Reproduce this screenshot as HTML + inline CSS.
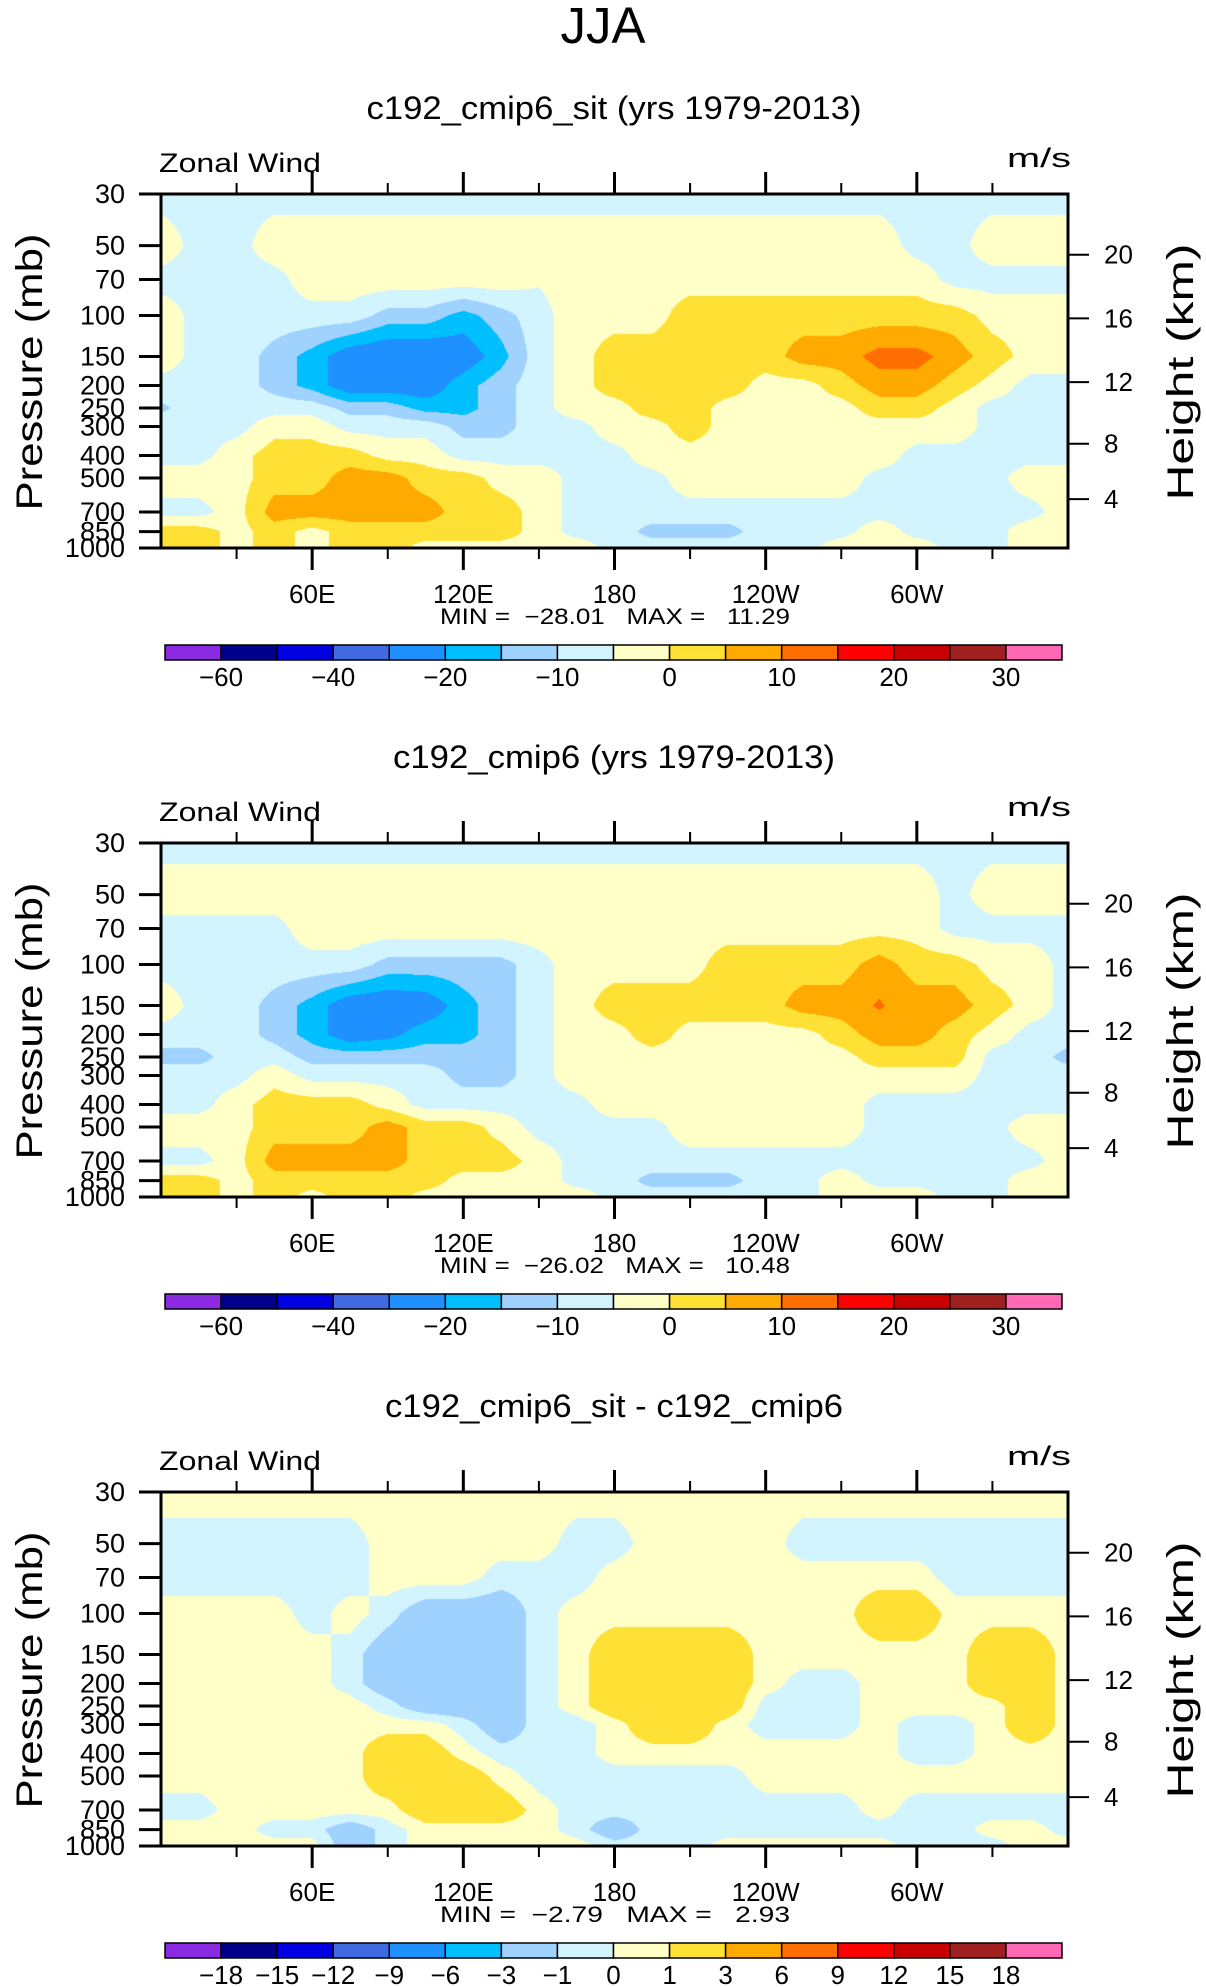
<!DOCTYPE html>
<html><head><meta charset="utf-8"><style>
html,body{margin:0;padding:0;background:#fff;}
#root{position:relative;width:1206px;height:1987px;overflow:hidden;background:#fff;}
canvas{position:absolute;}
svg{position:absolute;left:0;top:0;}
text{font-family:"Liberation Sans",sans-serif;fill:#000;}
</style></head><body>
<div id="root">
<canvas id="cv0" width="907" height="354" style="left:161px;top:194px"></canvas>
<canvas id="cv1" width="907" height="354" style="left:161px;top:843px"></canvas>
<canvas id="cv2" width="907" height="354" style="left:161px;top:1492px"></canvas>
<svg id="svg" width="1206" height="1987"></svg>
</div>
<script>
// ---- data ----
const LONS = [0,15,30,45,60,75,90,105,120,135,150,165,180,195,210,225,240,255,270,285,300,315,330,345,360];
const LEVELS = [30,50,70,100,150,200,250,300,400,500,700,850,1000];
const LEVS_A = [-60,-50,-40,-30,-20,-15,-10,-5,0,5,10,15,20,25,30];
const LEVS_B = [-18,-15,-12,-9,-6,-3,-1,0,1,3,6,9,12,15,18];
const CB_LABELS_A = ["−60","","−40","","−20","","−10","","0","","10","","20","","30"];
const CB_LABELS_B = ["−18","−15","−12","−9","−6","−3","−1","0","1","3","6","9","12","15","18"];
const PRESS_TICKS = [30,50,70,100,150,200,250,300,400,500,700,850,1000];
const HEIGHT_TICKS = [4,8,12,16,20];
const LON_TICKS = [60,120,180,240,300];
const LON_LABELS = ["60E","120E","180","120W","60W"];
const LON_MINOR = [30,90,150,210,270,330];
const TITLES = ["c192_cmip6_sit (yrs 1979-2013)","c192_cmip6 (yrs 1979-2013)","c192_cmip6_sit - c192_cmip6"];
const MINS = ["−28.01","−26.02","−2.79"];
const MAXS = ["11.29","10.48","2.93"];

const U_SIT = [
[-7,-7,-7,-7,-7,-7,-7,-7,-7,-7,-7,-7,-7,-7,-7,-7,-7,-7,-7,-7,-7,-7,-7,-7,-7],
[-2,-7,-7,-2,-2,-2,-2,-2,-2,-2,-2,-2,-2,-2,-2,-2,-2,-2,-2,-2,-7,-7,-2,-2,-2],
[-7,-7,-7,-7,-2,-2,-2,-2,-2,-2,-4.5,-2,-2,-2,-2,-2,-2,-2,-2,-2,-2,-7,-7,-7,-7],
[-2,-7,-7,-7,-7,-7,-12,-12,-17,-12,-7,-2,-2,-2,2.5,2.5,2.5,2.5,2.5,2.5,2.5,2.5,-2,-2,-2],
[-2,-7,-7,-12,-17,-24,-26,-26,-24,-17,-7,-2,2.5,2.5,2.5,2.5,2.5,7.5,7.5,12,12,7.5,2.5,-2,-2],
[-7,-7,-7,-12,-17,-24,-24,-24,-17,-12,-7,-2,2.5,2.5,2.5,2.5,-2,-2,2.5,7.5,7.5,2.5,-2,-7,-7],
[-11,-7,-7,-7,-7,-12,-12,-17,-17,-12,-7,-2,-2,2.5,2.5,-2,-2,-2,-2,2.5,2.5,-2,-7,-7,-7],
[-7,-7,-7,-2,-2,-7,-7,-7,-12,-12,-7,-7,-2,-2,2.5,-2,-2,-2,-2,-2,-2,-2,-7,-7,-7],
[-7,-7,-2,2.5,2.5,2.5,-2,-2,-7,-7,-7,-7,-7,-2,-2,-2,-2,-2,-2,-2,-7,-7,-7,-7,-7],
[-2,-2,-2,2.5,2.5,7.5,7.5,2.5,2.5,-2,-2,-7,-7,-7,-2,-2,-2,-2,-2,-7,-7,-7,-7,-2,-2],
[-7,-7,-2,7.5,7.5,7.5,7.5,7.5,2.5,2.5,-2,-7,-7,-7,-7,-7,-7,-7,-7,-7,-7,-7,-7,-7,-2],
[2.5,2.5,-2,2.5,-2,2.5,2.5,2.5,2.5,2.5,-2,-7,-7,-12,-12,-12,-7,-7,-7,-2,-7,-7,-7,-2,-2],
[2.5,2.5,-2,2.5,-2,2.5,2.5,-2,-2,-2,-2,-2,-7,-7,-7,-7,-7,-7,-2,-2,-2,-7,-7,-2,-2]
];
const U_CTL = [
[-7,-7,-7,-7,-7,-7,-7,-7,-7,-7,-7,-7,-7,-7,-7,-7,-7,-7,-7,-7,-7,-7,-7,-7,-7],
[-2,-2,-2,-2,-2,-2,-2,-2,-2,-2,-2,-2,-2,-2,-2,-2,-2,-2,-2,-2,-2,-7,-2,-2,-2],
[-7,-7,-7,-7,-2,-2,-2,-2,-2,-2,-2,-2,-2,-2,-2,-2,-2,-2,-2,-2,-2,-7,-7,-7,-7],
[-7,-7,-7,-7,-7,-7,-12,-12,-12,-12,-7,-2,-2,-2,-2,2.5,2.5,2.5,2.5,7.5,2.5,2.5,-2,-2,-7],
[-2,-7,-7,-12,-17,-24,-25,-24,-17,-12,-7,-2,2.5,2.5,2.5,2.5,2.5,7.5,7.5,10.5,7.5,7.5,2.5,-2,-7],
[-7,-7,-7,-12,-17,-24,-22,-17,-17,-12,-7,-2,-2,2.5,-2,-2,-2,-2,2.5,7.5,7.5,2.5,-2,-7,-7],
[-12,-12,-7,-7,-12,-12,-12,-12,-12,-12,-7,-2,-2,-2,-2,-2,-2,-2,-2,2.5,2.5,2.5,-7,-7,-12],
[-7,-7,-7,-2,-7,-7,-7,-7,-12,-12,-7,-2,-2,-2,-2,-2,-2,-2,-2,-2,-2,-2,-7,-7,-7],
[-7,-7,-2,2.5,2.5,2.5,-2,-7,-7,-7,-7,-7,-2,-2,-2,-2,-2,-2,-2,-7,-7,-7,-7,-7,-7],
[-2,-2,-2,2.5,2.5,2.5,7.5,2.5,2.5,-2,-7,-7,-7,-7,-2,-2,-2,-2,-2,-7,-7,-7,-7,-2,-2],
[-7,-7,-2,7.5,7.5,7.5,7.5,2.5,2.5,2.5,-2,-7,-7,-7,-7,-7,-7,-7,-7,-7,-7,-7,-7,-7,-2],
[2.5,2.5,-2,2.5,2.5,2.5,2.5,2.5,-2,-2,-2,-7,-7,-12,-12,-12,-7,-7,-2,-7,-7,-7,-7,-2,-2],
[2.5,2.5,-2,2.5,-2,2.5,2.5,-2,-2,-2,-2,-2,-7,-7,-7,-7,-7,-7,-2,-2,-2,-7,-7,-2,-2]
];
const U_DIFF = [
[0.5,0.5,0.5,0.5,0.5,0.5,0.5,0.5,0.5,0.5,0.5,0.5,0.5,0.5,0.5,0.5,0.5,0.5,0.5,0.5,0.5,0.5,0.5,0.5,0.5],
[-0.5,-0.5,-0.5,-0.5,-0.5,-0.5,0.5,0.5,0.5,0.5,0.5,-0.5,-0.5,0.5,0.5,0.5,0.5,-0.5,-0.5,-0.5,-0.5,-0.5,-0.5,-0.5,-0.5],
[-0.5,-0.5,-0.5,-0.5,-0.5,-0.5,0.5,0.5,0.5,-0.5,-0.5,-0.5,0.5,0.5,0.5,0.5,0.5,0.5,0.5,0.5,0.5,-0.5,-0.5,-0.5,-0.5],
[0.5,0.5,0.5,0.5,-0.5,0.5,-0.5,-2,-2,-2,-0.5,0.5,0.5,0.5,0.5,0.5,0.5,0.5,0.5,2,2,0.5,0.5,0.5,0.5],
[0.5,0.5,0.5,0.5,0.5,-0.5,-2,-2,-2,-2,-0.5,0.5,2,2,2,2,0.5,0.5,0.5,0.5,0.5,0.5,2,2,0.5],
[0.5,0.5,0.5,0.5,0.5,-0.5,-2,-2,-2,-2,-0.5,0.5,2,2,2,2,0.5,-0.5,-0.5,0.5,0.5,0.5,2,2,0.5],
[0.5,0.5,0.5,0.5,0.5,0.5,-0.5,-2,-2,-2,-0.5,0.5,2,2,2,2,-0.5,-0.5,-0.5,0.5,0.5,0.5,0.5,2,0.5],
[0.5,0.5,0.5,0.5,0.5,0.5,0.5,0.5,-0.5,-2,-0.5,-0.5,0.5,2,2,0.5,-0.5,-0.5,-0.5,0.5,-0.5,-0.5,0.5,2,0.5],
[0.5,0.5,0.5,0.5,0.5,0.5,2,2,0.5,-0.5,-0.5,-0.5,0.5,0.5,0.5,0.5,0.5,0.5,0.5,0.5,-0.5,-0.5,0.5,0.5,0.5],
[0.5,0.5,0.5,0.5,0.5,0.5,2,2,2,0.5,-0.5,-0.5,-0.5,-0.5,-0.5,-0.5,0.5,0.5,0.5,0.5,0.5,0.5,0.5,0.5,0.5],
[-0.5,-0.5,0.5,0.5,0.5,0.5,0.5,2,2,2,0.5,-0.5,-0.5,-0.5,-0.5,-0.5,-0.5,-0.5,-0.5,0.5,-0.5,-0.5,-0.5,-0.5,-0.5],
[0.5,0.5,0.5,-0.5,-0.5,-2,-0.5,0.5,0.5,0.5,0.5,-0.5,-2,-0.5,-0.5,-0.5,-0.5,-0.5,-0.5,-0.5,-0.5,-0.5,0.5,0.5,-0.5],
[0.5,0.5,0.5,0.5,0.5,-2,-0.5,0.5,0.5,0.5,0.5,0.5,-0.5,-0.5,-0.5,0.5,0.5,0.5,0.5,0.5,-0.5,-0.5,-0.5,0.5,0.5]
];

const COLORS = ["#8a2be2","#00008b","#0000e0","#4169e1","#1e90ff","#00bfff","#a0d2ff","#d2f4ff","#ffffc8","#ffe135","#ffaa00","#ff6e00","#ff0000","#c80000","#a02020","#ff69b4"];

const NS = "http://www.w3.org/2000/svg";
const svg = document.getElementById("svg");
const PL = 161, PR = 1068, PW = 907, PH = 354, PT0 = 194, DY = 649;
const CBL = 165, CBR = 1062;
function xOf(lon){ return PL + lon/360*PW; }
function yFrac(p){ return Math.log(p/30)/Math.log(1000/30); }
function pOfZ(zkm){
  const z = zkm*1000;
  if (z <= 11000) return 1013.25*Math.pow(1-2.25577e-5*z,5.25588);
  return 226.32*Math.exp(-(z-11000)/6341.6);
}
function colorIndex(v, levs){ let i=0; while(i<levs.length && levs[i]<=v) i++; return i; }
function hexRgb(h){ return [parseInt(h.substr(1,2),16),parseInt(h.substr(3,2),16),parseInt(h.substr(5,2),16)]; }
const RGB = COLORS.map(hexRgb);

function drawField(cvId, data, levs){
  const cv = document.getElementById(cvId);
  const ctx = cv.getContext("2d");
  const img = ctx.createImageData(PW, PH);
  const step = LONS[1]-LONS[0];
  for (let py=0; py<PH; py++){
    const p = 30*Math.pow(1000/30, (py+0.5)/PH);
    let k = 0; while (k < LEVELS.length-2 && LEVELS[k+1] < p) k++;
    let fj = Math.log(p/LEVELS[k])/Math.log(LEVELS[k+1]/LEVELS[k]);
    fj = Math.max(0, Math.min(1, fj));
    const r0 = data[k], r1 = data[k+1];
    for (let px=0; px<PW; px++){
      const lon = (px+0.5)/PW*360;
      let i = Math.floor(lon/step); if (i >= LONS.length-1) i = LONS.length-2;
      const fi = (lon - LONS[i])/step;
      const v = (r0[i]*(1-fi)+r0[i+1]*fi)*(1-fj) + (r1[i]*(1-fi)+r1[i+1]*fi)*fj;
      const c = RGB[colorIndex(v, levs)];
      const o = (py*PW+px)*4;
      img.data[o]=c[0]; img.data[o+1]=c[1]; img.data[o+2]=c[2]; img.data[o+3]=255;
    }
  }
  ctx.putImageData(img,0,0);
}

function mk(tag, attrs, parent){
  const e = document.createElementNS(NS, tag);
  for (const k in attrs) e.setAttribute(k, attrs[k]);
  (parent||svg).appendChild(e);
  return e;
}
function txt(s, attrs, parent){
  const e = mk("text", attrs, parent);
  e.textContent = s;
  return e;
}

const mainTitle = txt("JJA", {x:603, y:43, "font-size":51, "text-anchor":"middle", textLength:85, lengthAdjust:"spacingAndGlyphs"});



const panels = [
  {cv:"cv0", data:U_SIT, levs:LEVS_A, lab:CB_LABELS_A, tl:495, name:"sit"},
  {cv:"cv1", data:U_CTL, levs:LEVS_A, lab:CB_LABELS_A, tl:442, name:"control"},
  {cv:"cv2", data:U_DIFF, levs:LEVS_B, lab:CB_LABELS_B, tl:458, name:"difference"}
];

panels.forEach((P, n) => {
  const dy = n*DY;
  const T = PT0 + dy, B = T + PH;
  drawField(P.cv, P.data, P.levs);
  const g = mk("g", {});
  
  

  const st = txt(TITLES[n], {x:614, y:119+dy, "font-size":32, "text-anchor":"middle", textLength:P.tl, lengthAdjust:"spacingAndGlyphs"}, g);
  
  

  const zw = txt("Zonal Wind", {x:159, y:172+dy, "font-size":27, textLength:162, lengthAdjust:"spacingAndGlyphs"}, g);
  
  

  const un = txt("m/s", {x:1007, y:167+dy, "font-size":27, textLength:64, lengthAdjust:"spacingAndGlyphs"}, g);
  
  

  LON_TICKS.forEach((lon, i) => {
    const x = xOf(lon);
    const t1 = mk("line", {x1:x, x2:x, y1:T, y2:T-22, stroke:"#000", "stroke-width":3}, g);
    
    
    const t2 = mk("line", {x1:x, x2:x, y1:B, y2:B+22, stroke:"#000", "stroke-width":3}, g);
    
    
    const lb = txt(LON_LABELS[i], {x:x, y:B+55, "font-size":26, "text-anchor":"middle"}, g);
    
    
  });
  LON_MINOR.forEach(lon => {
    const x = xOf(lon);
    const t1 = mk("line", {x1:x, x2:x, y1:T, y2:T-11, stroke:"#000", "stroke-width":2}, g);
    
    
    const t2 = mk("line", {x1:x, x2:x, y1:B, y2:B+11, stroke:"#000", "stroke-width":2}, g);
    
    
  });

  PRESS_TICKS.forEach(p => {
    const y = T + yFrac(p)*PH;
    const tk = mk("line", {x1:139, x2:PL, y1:y, y2:y, stroke:"#000", "stroke-width":3}, g);
    
    
    const lb = txt(String(p), {x:125, y:y+9, "font-size":27, "text-anchor":"end"}, g);
    
    
  });
  const pt = txt("Pressure (mb)", {x:0, y:0, "font-size":37, "text-anchor":"middle", transform:"translate(42," + (372+dy) + ") rotate(-90)", textLength:277, lengthAdjust:"spacingAndGlyphs"}, g);
  
  

  HEIGHT_TICKS.forEach(z => {
    const y = T + yFrac(pOfZ(z))*PH;
    const tk = mk("line", {x1:PR, x2:1089, y1:y, y2:y, stroke:"#000", "stroke-width":2}, g);
    
    
    const lb = txt(String(z), {x:1104, y:y+9, "font-size":26}, g);
    
    
  });
  const ht = txt("Height (km)", {x:0, y:0, "font-size":37, "text-anchor":"middle", transform:"translate(1193," + (372+dy) + ") rotate(-90)", textLength:257, lengthAdjust:"spacingAndGlyphs"}, g);
  
  

  const fr = mk("rect", {x:PL, y:T, width:PW, height:PH, fill:"none", stroke:"#000", "stroke-width":3}, g);
  
  

  const mm = txt("MIN =  " + MINS[n] + "   MAX =   " + MAXS[n], {x:440, y:B+76, "font-size":22, textLength:350, lengthAdjust:"spacingAndGlyphs", style:"white-space:pre"}, g);
  
  

  const cbTop = 645+dy, cbH = 15;
  const bw = (CBR-CBL)/COLORS.length;
  COLORS.forEach((c, i) => {
    const r = mk("rect", {x:CBL+i*bw, y:cbTop, width:bw, height:cbH, fill:c, stroke:"#000", "stroke-width":1.5}, g);
    
    
  });
  P.lab.forEach((s, i) => {
    if (!s) return;
    const lb = txt(s, {x:CBL+(i+1)*bw, y:cbTop+41, "font-size":26, "text-anchor":"middle"}, g);
    
    
  });
});
</script>
</body></html>
